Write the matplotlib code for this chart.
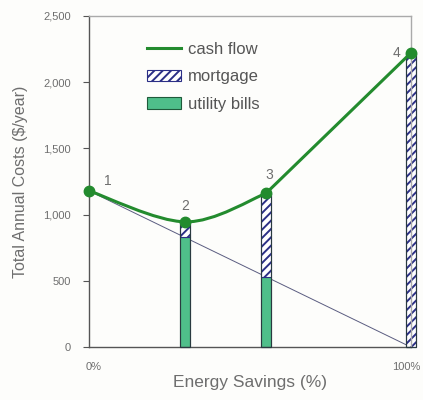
import matplotlib.pyplot as plt
from matplotlib.path import Path
from matplotlib.patches import PathPatch, Patch
from matplotlib.lines import Line2D
import numpy as np

# cash flow points (energy savings fraction, $/year)
cash_x = [0.0, 0.30, 0.55, 1.0]
cash_y = [1180, 945, 1160, 2220]
point_labels = ["1", "2", "3", "4"]

# stacked bars at the intermediate/full savings points
bar_x = [0.30, 0.55, 1.0]
utility = [828, 530, 0]
mortgage = [117, 630, 2220]

# utility bill baseline falling to zero at 100% savings
base_x = [0.0, 1.0]
base_y = [1180, 0]

GREEN = "#238b2e"
BAR_GREEN = "#4fbf8a"
NAVY = "#2b2f86"
GREY_TXT = "#6e6e6e"

plt.rcParams["font.family"] = ["Liberation Sans", "DejaVu Sans"]
plt.rcParams["hatch.linewidth"] = 1.4
plt.rcParams["hatch.color"] = NAVY


def smooth_path(xs, ys):
    """Bezier path through the points, Excel-style smoothing."""
    pts = np.column_stack([xs, ys]).astype(float)
    n = len(pts)
    verts = [pts[0]]
    codes = [Path.MOVETO]
    for i in range(n - 1):
        p0 = pts[i - 1] if i > 0 else pts[i]
        p1, p2 = pts[i], pts[i + 1]
        p3 = pts[i + 2] if i + 2 < n else pts[i + 1]
        c1 = p1 + (p2 - p0) / 6.0
        c2 = p2 - (p3 - p1) / 6.0
        verts += [c1, c2, p2]
        codes += [Path.CURVE4] * 3
    return Path(verts, codes)


fig = plt.figure(figsize=(4.23, 4.00), dpi=100, facecolor="#fdfdfb")
ax = fig.add_axes([0.210, 0.1325, 0.761, 0.8275])
ax.set_facecolor("#fdfdfb")

ax.plot(base_x, base_y, color="#5a5c80", lw=0.7, zorder=1)

w = 0.031
ax.bar(bar_x, utility, width=w, color=BAR_GREEN, edgecolor="#1f5a3a",
       lw=0.8, zorder=2, clip_on=False)
ax.bar(bar_x, mortgage, width=w, bottom=utility, color="white",
       edgecolor=NAVY, hatch="////", lw=0.8, zorder=2, clip_on=False)
# dark outline around the stacked bars
ax.bar(bar_x, [u + m for u, m in zip(utility, mortgage)], width=w,
       fill=False, edgecolor="#2a3a40", lw=0.8, zorder=3, clip_on=False)

# smooth curve through points 1-3, straight run from 3 to 4
ax.add_patch(PathPatch(smooth_path(cash_x[:3], cash_y[:3]), fill=False,
                       edgecolor=GREEN, lw=2.2, zorder=4, clip_on=False))
ax.plot(cash_x[2:], cash_y[2:], color=GREEN, lw=2.2, zorder=4)
ax.plot(cash_x, cash_y, "o", color=GREEN, ms=7.5, zorder=5, clip_on=False)

offsets = [(0.06, 70), (0.0, 120), (0.012, 140), (-0.045, 0)]
for x, y, t, (dx, dy) in zip(cash_x, cash_y, point_labels, offsets):
    ax.text(x + dx, y + dy, t, fontsize=10, color=GREY_TXT,
            ha="center", va="center", zorder=6)

ax.set_xlim(0, 1)
ax.set_ylim(0, 2500)
ax.set_yticks(range(0, 2501, 500))
ax.set_yticklabels([f"{v:,}" for v in range(0, 2501, 500)])
ax.set_xticks([0.015, 0.985])
ax.set_xticklabels(["0%", "100%"])
ax.tick_params(axis="y", labelsize=8, labelcolor=GREY_TXT, color="#555555",
               length=4, width=0.8, pad=9)
ax.tick_params(axis="x", labelsize=8, labelcolor=GREY_TXT, length=0, pad=11)

ax.spines["left"].set_color("#555555")
ax.spines["bottom"].set_color("#555555")
ax.spines["top"].set_color("#aaaaaa")
ax.spines["right"].set_color("#aaaaaa")
for s in ax.spines.values():
    s.set_linewidth(1.0)

ax.set_ylabel("Total Annual Costs ($/year)", fontsize=11.5, color=GREY_TXT,
              labelpad=11)
ax.set_xlabel("Energy Savings (%)", fontsize=12.5, color=GREY_TXT, labelpad=2)

handles = [
    Line2D([], [], color=GREEN, lw=2.2),
    Patch(facecolor="white", edgecolor=NAVY, hatch="////", lw=0.8),
    Patch(facecolor=BAR_GREEN, edgecolor="#1f5a3a", lw=0.8),
]
ax.legend(handles, ["cash flow", "mortgage", "utility bills"],
          loc="upper left", bbox_to_anchor=(0.135, 0.968), frameon=False,
          fontsize=12, labelcolor="#555555", handlelength=2.0,
          handleheight=0.7, handletextpad=0.45, labelspacing=0.76)

fig.savefig("out.png", dpi=100, facecolor=fig.get_facecolor())
